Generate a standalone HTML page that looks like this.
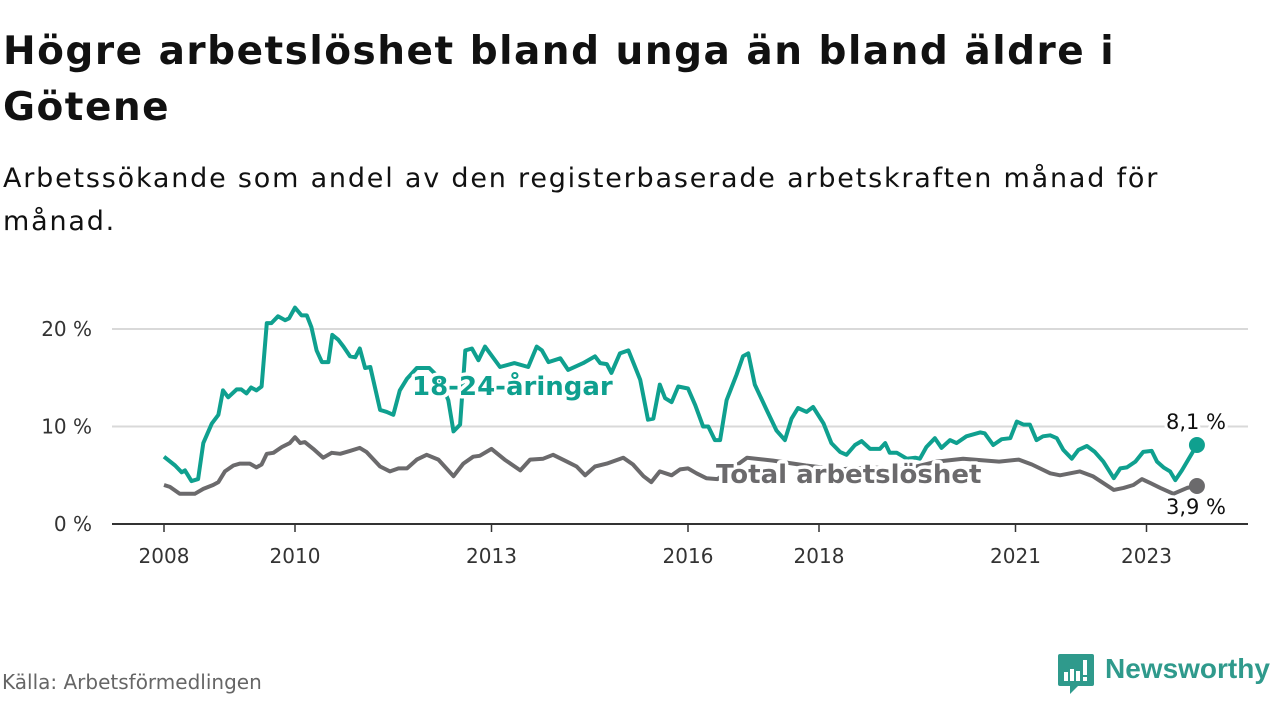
<!DOCTYPE html>
<html><head><meta charset="utf-8"><style>
body{margin:0;width:1280px;height:720px;background:#fff;font-family:"DejaVu Sans","Liberation Sans",sans-serif;overflow:hidden;position:relative;color:#111}
h1{position:absolute;left:3px;top:24px;margin:0;font-size:39px;line-height:56px;font-weight:bold;width:1150px;letter-spacing:1.5px}
.sub{position:absolute;left:3px;top:157px;font-size:27px;line-height:43px;width:1175px;letter-spacing:1.8px}
.src{position:absolute;left:2px;top:670px;font-size:20px;color:#666}
</style></head><body>
<h1>Högre arbetslöshet bland unga än bland äldre i Götene</h1>
<div class="sub">Arbetssökande som andel av den registerbaserade arbetskraften månad för månad.</div>
<svg id="chart" width="1280" height="720" style="position:absolute;left:0;top:0"></svg>
<div class="src">Källa: Arbetsförmedlingen</div>
<svg style="position:absolute;left:1058px;top:654px" width="40" height="44">
<path d="M2 0H34Q36 0 36 2V30Q36 32 34 32H20L12 40V32H2Q0 32 0 30V2Q0 0 2 0Z" fill="#2f9a8c"/>
<rect x="6" y="18" width="4" height="9" fill="#fff"/><rect x="12" y="15" width="4" height="12" fill="#fff"/><rect x="18" y="17" width="4" height="10" fill="#fff"/><rect x="25" y="6" width="4" height="15" fill="#fff"/><rect x="25" y="23" width="4" height="4" fill="#fff"/>
</svg>
<div style="position:absolute;left:1105px;top:653px;font-size:28px;font-weight:bold;color:#2f9a8c;font-family:'Liberation Sans',sans-serif">Newsworthy</div>
<script>
const yTicks=[0,10,20];
const yTickLabels=["0 %","10 %","20 %"];
const xTicks=[2008,2010,2013,2016,2018,2021,2023];
const youthT=[2008.0,2008.17,2008.27,2008.32,2008.42,2008.52,2008.6,2008.73,2008.83,2008.9,2008.98,2009.11,2009.18,2009.26,2009.33,2009.41,2009.49,2009.57,2009.64,2009.74,2009.85,2009.91,2010.0,2010.1,2010.18,2010.25,2010.33,2010.41,2010.51,2010.57,2010.66,2010.74,2010.84,2010.92,2010.99,2011.07,2011.15,2011.3,2011.4,2011.5,2011.6,2011.71,2011.86,2012.05,2012.2,2012.34,2012.42,2012.52,2012.6,2012.7,2012.8,2012.9,2013.13,2013.35,2013.56,2013.69,2013.77,2013.87,2014.05,2014.17,2014.4,2014.58,2014.66,2014.76,2014.83,2014.96,2015.09,2015.27,2015.39,2015.47,2015.57,2015.65,2015.75,2015.85,2016.0,2016.11,2016.23,2016.31,2016.41,2016.49,2016.59,2016.74,2016.84,2016.92,2017.02,2017.2,2017.35,2017.48,2017.58,2017.68,2017.81,2017.91,2018.07,2018.19,2018.32,2018.42,2018.55,2018.65,2018.78,2018.93,2019.01,2019.08,2019.19,2019.34,2019.47,2019.54,2019.64,2019.77,2019.87,2020.0,2020.1,2020.25,2020.46,2020.53,2020.66,2020.79,2020.92,2021.02,2021.12,2021.22,2021.32,2021.42,2021.53,2021.63,2021.73,2021.86,2021.96,2022.09,2022.21,2022.34,2022.5,2022.6,2022.7,2022.83,2022.95,2023.08,2023.16,2023.26,2023.36,2023.44,2023.54,2023.77];
const youthV=[6.9,6.0,5.3,5.5,4.4,4.6,8.3,10.3,11.2,13.7,13.0,13.8,13.8,13.4,14.0,13.7,14.1,20.6,20.6,21.3,20.9,21.1,22.2,21.4,21.4,20.2,17.8,16.6,16.6,19.4,18.9,18.2,17.2,17.1,18.0,16.0,16.1,11.7,11.5,11.2,13.7,14.9,16.0,16.0,15.0,12.7,9.5,10.2,17.8,18.0,16.8,18.2,16.1,16.5,16.1,18.2,17.8,16.6,17.0,15.8,16.5,17.2,16.5,16.4,15.5,17.5,17.8,14.8,10.7,10.8,14.3,12.9,12.5,14.1,13.9,12.2,10.0,10.0,8.6,8.6,12.7,15.3,17.2,17.5,14.3,11.7,9.6,8.6,10.8,11.9,11.5,12.0,10.3,8.3,7.4,7.1,8.1,8.5,7.7,7.7,8.3,7.3,7.3,6.7,6.8,6.7,7.9,8.8,7.8,8.6,8.3,9.0,9.4,9.3,8.1,8.7,8.8,10.5,10.2,10.2,8.6,9.0,9.1,8.8,7.6,6.7,7.6,8.0,7.4,6.4,4.7,5.7,5.8,6.4,7.4,7.5,6.4,5.8,5.4,4.5,5.5,8.1];
const totalT=[2008.0,2008.09,2008.24,2008.47,2008.6,2008.75,2008.83,2008.93,2009.06,2009.16,2009.31,2009.41,2009.49,2009.57,2009.67,2009.8,2009.92,2010.0,2010.08,2010.15,2010.28,2010.43,2010.56,2010.69,2010.84,2010.99,2011.09,2011.3,2011.45,2011.58,2011.71,2011.86,2012.01,2012.19,2012.42,2012.57,2012.72,2012.82,2013.0,2013.2,2013.44,2013.59,2013.79,2013.94,2014.15,2014.3,2014.43,2014.58,2014.76,2015.01,2015.16,2015.32,2015.44,2015.57,2015.75,2015.88,2016.0,2016.13,2016.28,2016.45,2016.9,2017.3,2017.8,2018.3,2018.8,2019.3,2019.8,2020.2,2020.75,2021.05,2021.25,2021.53,2021.68,2021.98,2022.18,2022.34,2022.5,2022.65,2022.8,2022.93,2023.06,2023.21,2023.41,2023.62,2023.77];
const totalV=[4.0,3.8,3.1,3.1,3.6,4.0,4.3,5.4,6.0,6.2,6.2,5.8,6.1,7.2,7.3,7.9,8.3,8.9,8.3,8.4,7.7,6.8,7.3,7.2,7.5,7.8,7.4,5.9,5.4,5.7,5.7,6.6,7.1,6.6,4.9,6.2,6.9,7.0,7.7,6.6,5.5,6.6,6.7,7.1,6.4,5.9,5.0,5.9,6.2,6.8,6.1,4.9,4.3,5.4,5.0,5.6,5.7,5.2,4.7,4.6,6.8,6.5,6.0,5.6,5.8,5.6,6.4,6.7,6.4,6.6,6.1,5.2,5.0,5.4,4.9,4.2,3.5,3.7,4.0,4.6,4.2,3.7,3.1,3.7,3.9];
const NS="http://www.w3.org/2000/svg";
const svg=document.getElementById('chart');
const X=t=>164+(t-2008)*65.5;
const Y=v=>524-v*9.75;
function mk(tag,attrs,parent){const e=document.createElementNS(NS,tag);for(const k in attrs)e.setAttribute(k,attrs[k]);(parent||svg).appendChild(e);return e;}
yTicks.forEach((v,i)=>{
  if(v>0){const g=mk('line',{x1:112,x2:1248,y1:Y(v),y2:Y(v),stroke:'#d9d9d9','stroke-width':2});
  
  }
  const t=mk('text',{x:92,y:Y(v)+7,'text-anchor':'end','font-size':20,fill:'#333'});t.textContent=yTickLabels[i];
  
  
});
const ax=mk('line',{x1:112,x2:1248,y1:524,y2:524,stroke:'#333','stroke-width':2});


xTicks.forEach(y=>{
  const l=mk('line',{x1:X(y),x2:X(y),y1:524,y2:532,stroke:'#333','stroke-width':1.5});
  
  
  const t=mk('text',{x:X(y),y:563,'text-anchor':'middle','font-size':20,fill:'#333'});t.textContent=y;
  
  
});
function line(T,V,col,name){
  const d=T.map((t,i)=>(i?'L':'M')+X(t).toFixed(1)+' '+Y(V[i]).toFixed(1)).join(' ');
  const p=mk('path',{d:d,fill:'none',stroke:col,'stroke-width':4,'stroke-linejoin':'round'});
  
  
  const c=mk('circle',{cx:X(T[T.length-1]),cy:Y(V[V.length-1]),r:8,fill:col});
  
  
}
line(totalT,totalV,'#6b6a6c','total-line');
line(youthT,youthV,'#0fa08f','youth-line');
function label(txt,x,y,col,name,anchor,bold){
  const t=mk('text',{x:x,y:y,'font-size':bold?26:21,'font-weight':bold?'bold':'normal',fill:col,stroke:'#fff','stroke-width':bold?7:6,'paint-order':'stroke','stroke-linejoin':'round','text-anchor':anchor});
  t.textContent=txt;
  
  
}
label('18-24-åringar',412,395,'#0fa08f','youth-series-label','start',true);
label('Total arbetslöshet',716,483,'#6b6a6c','total-series-label','start',true);
label('8,1 %',1196,429,'#111','youth-end-value','middle',false);
label('3,9 %',1196,514,'#111','total-end-value','middle',false);
</script>
</body></html>
